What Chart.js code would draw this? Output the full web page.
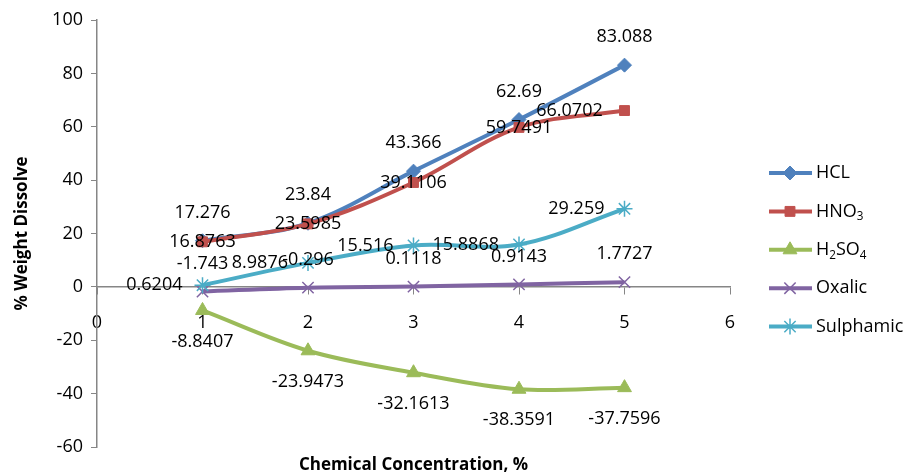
<!DOCTYPE html>
<html lang="en">
<head>
<meta charset="utf-8">
<title>% Weight Dissolve</title>
<script src="https://cdn.jsdelivr.net/npm/chart.js"></script>
<style>
  html, body { margin: 0; padding: 0; background: #fff; }
</style>
</head>
<body>
<canvas id="chart" width="906" height="473"></canvas>

<script>
  // values
  const concentrations = [1, 2, 3, 4, 5];
  const hcl       = [17.276, 23.84, 43.366, 62.69, 83.088];
  const hno3      = [16.8763, 23.5985, 39.1106, 59.7491, 66.0702];
  const h2so4     = [-8.8407, -23.9473, -32.1613, -38.3591, -37.7596];
  const oxalic    = [-1.743, -0.296, 0.1118, 0.9143, 1.7727];
  const sulphamic = [0.6204, 8.9876, 15.516, 15.8868, 29.259];

  const seriesNames = ['HCL', 'HNO_3', 'H_2SO_4', 'Oxalic', 'Sulphamic'];
  const xTicks = [0, 1, 2, 3, 4, 5, 6];
  const yTicks = [-60, -40, -20, 0, 20, 40, 60, 80, 100];

  const colors  = ['#4F81BD', '#C0504D', '#9BBB59', '#8064A2', '#4BACC6'];
  const markers = ['rectRot', 'rect', 'triangle', 'crossRot', 'star'];
  const radii   = [7, 7, 8, 8, 8];
  const labelPlacement = ['above', 'center', 'below', 'above', 'left'];
  const labelNudge = { 1: { 4: -55 } }; // HNO3 last label sits left of its marker

  const FONT = '"Open Sans", "DejaVu Sans", sans-serif';

  const allSeries = [hcl, hno3, h2so4, oxalic, sulphamic];

  const datasets = allSeries.map((vals, i) => ({
    label: seriesNames[i].replace(/_/g, ''),
    data: concentrations.map((c, k) => ({ x: c, y: vals[k] })),
    borderColor: colors[i],
    backgroundColor: colors[i],
    borderWidth: 4,
    tension: 0.35,
    pointStyle: markers[i],
    pointRadius: radii[i],
    pointHoverRadius: radii[i],
    pointBackgroundColor: colors[i],
    pointBorderColor: colors[i],
    pointBorderWidth: (markers[i] === 'crossRot' || markers[i] === 'star') ? 1.5 : 1,
    order: 5 - i,
    clip: false
  }));

  // draw text with "_" marking a subscript digit
  function drawRich(ctx, text, x, y, size) {
    const parts = text.split(/(_\d)/).filter(s => s.length);
    parts.forEach(p => {
      if (p[0] === '_') {
        ctx.font = (size * 0.65) + 'px ' + FONT;
        ctx.fillText(p[1], x, y + size * 0.3);
        x += ctx.measureText(p[1]).width;
      } else {
        ctx.font = size + 'px ' + FONT;
        ctx.fillText(p, x, y);
        x += ctx.measureText(p).width;
      }
    });
  }

  const overlay = {
    id: 'overlay',
    afterDatasetsDraw(chart) {
      const ctx = chart.ctx;
      ctx.save();
      ctx.fillStyle = '#000';
      ctx.font = '18px ' + FONT;
      ctx.textBaseline = 'middle';

      // data labels
      chart.data.datasets.forEach((ds, di) => {
        const meta = chart.getDatasetMeta(di);
        meta.data.forEach((pt, k) => {
          let x = pt.x, y = pt.y;
          ctx.textAlign = 'center';
          if (labelPlacement[di] === 'above') y -= 28;
          else if (labelPlacement[di] === 'below') y += 31;
          else if (labelPlacement[di] === 'left') { x -= 20; ctx.textAlign = 'right'; }
          if (labelNudge[di] && labelNudge[di][k]) x += labelNudge[di][k];
          ctx.fillText(String(ds.data[k].y), x, y);
        });
      });

      // legend
      ctx.textAlign = 'left';
      seriesNames.forEach((name, i) => {
        const y = 173 + i * 38.4;
        ctx.strokeStyle = colors[i];
        ctx.lineWidth = 4;
        ctx.beginPath();
        ctx.moveTo(769, y);
        ctx.lineTo(812, y);
        ctx.stroke();
        ctx.fillStyle = colors[i];
        ctx.strokeStyle = colors[i];
        ctx.lineWidth = datasets[i].pointBorderWidth;
        Chart.helpers.drawPoint(ctx, { pointStyle: markers[i], radius: radii[i], borderWidth: datasets[i].pointBorderWidth }, 790, y);
        ctx.fillStyle = '#000';
        drawRich(ctx, name, 816, y, 18);
      });

      // x axis title
      ctx.font = 'bold 17px ' + FONT;
      ctx.textAlign = 'center';
      ctx.fillText('Chemical Concentration, %', (chart.chartArea.left + chart.chartArea.right) / 2, 465);
      ctx.restore();
    }
  };

  new Chart(document.getElementById('chart'), {
    type: 'line',
    data: { datasets: datasets },
    options: {
      responsive: false,
      animation: false,
      devicePixelRatio: 1,
      layout: { padding: { left: 0, right: 176, top: 20, bottom: 26 } },
      plugins: {
        legend: { display: false },
        tooltip: { enabled: false }
      },
      scales: {
        x: {
          type: 'linear',
          position: { y: 0 },
          min: 0,
          max: 6,
          afterBuildTicks: s => { s.ticks = xTicks.map(v => ({ value: v })); },
          ticks: { color: '#000', font: { family: FONT, size: 18 }, padding: 18 },
          grid: { drawOnChartArea: false, drawTicks: true, tickLength: 7, color: '#868686' },
          border: { display: true, color: '#868686', width: 1.5 }
        },
        y: {
          min: -60,
          max: 100,
          afterBuildTicks: s => { s.ticks = yTicks.map(v => ({ value: v })); },
          afterFit: s => { s.width = 97; },
          ticks: { color: '#000', font: { family: FONT, size: 18 }, padding: 8 },
          grid: { drawOnChartArea: false, drawTicks: true, tickLength: 6, color: '#868686' },
          border: { display: true, color: '#868686', width: 1.5 },
          title: {
            display: true,
            text: '% Weight Dissolve',
            color: '#000',
            font: { family: FONT, size: 17, weight: 'bold' },
            padding: { top: 12, bottom: 0 }
          }
        }
      }
    },
    plugins: [overlay]
  });
</script>
</body>
</html>
